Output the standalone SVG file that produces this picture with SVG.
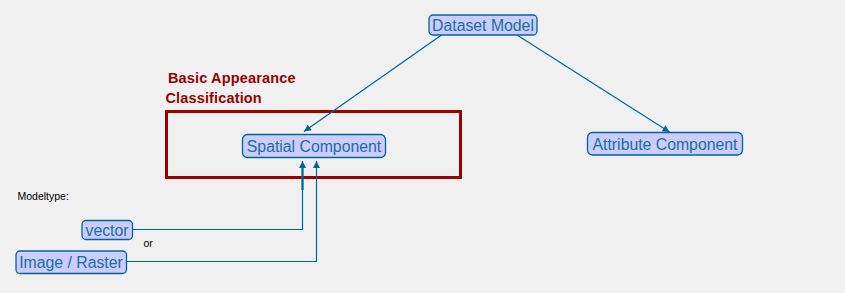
<svg xmlns="http://www.w3.org/2000/svg" width="845" height="293" viewBox="0 0 845 293">
<style>
.node rect{fill:#ccccff;stroke:#006699;stroke-width:1.3}
.node text{font-family:"Liberation Sans",Arial,sans-serif;font-size:15.8px;fill:#1a6e9e;text-anchor:middle}
.conn{fill:none;stroke:#006699;stroke-width:1.2}
.lbl{font-family:"Liberation Sans",Arial,sans-serif;font-size:10.5px;fill:#000}
.title{font-family:"Liberation Sans",Arial,sans-serif;font-size:14.5px;font-weight:bold;fill:#990000;letter-spacing:0.15px}
</style>
<defs>
<marker id="arr" viewBox="0 0 10 10" refX="10" refY="5" markerWidth="8" markerHeight="7" markerUnits="userSpaceOnUse" orient="auto">
<path d="M0,0 L10,5 L0,10 Z" fill="#006699"/>
</marker>
</defs>
<rect width="845" height="293" fill="#f0f0f0"/>
<g id="frame">
<rect x="166.5" y="111.5" width="294" height="66" fill="none" stroke="#990000" stroke-width="3"/>
<text class="title" x="168" y="82.5">Basic Appearance</text>
<text class="title" x="165.5" y="102.5">Classification</text>
</g>
<g id="connectors">
<line class="conn" x1="441.5" y1="35" x2="304" y2="131.5" marker-end="url(#arr)"/>
<line class="conn" x1="517" y1="35" x2="669.5" y2="132" marker-end="url(#arr)"/>
<polyline class="conn" points="132.5,229.5 302.5,229.5 302.5,161" marker-end="url(#arr)"/>
<line x1="302.5" y1="190" x2="302.5" y2="168" stroke="#006699" stroke-width="2.2"/>
<polyline class="conn" points="127,261.5 316.5,261.5 316.5,161" marker-end="url(#arr)"/>
</g>
<g id="n-dataset" class="node">
<rect x="429" y="15" width="108" height="20" rx="4"/>
<text x="483" y="30.5">Dataset Model</text>
</g>
<g id="n-spatial" class="node">
<rect x="242.5" y="134.5" width="143" height="23" rx="5"/>
<text x="314" y="151.5">Spatial Component</text>
</g>
<g id="n-attribute" class="node">
<rect x="587.5" y="132.5" width="155" height="22.5" rx="5"/>
<text x="665" y="150">Attribute Component</text>
</g>
<g id="n-vector" class="node">
<rect x="82" y="220.5" width="50.5" height="19" rx="4"/>
<text x="107" y="235.5">vector</text>
</g>
<g id="n-raster" class="node">
<rect x="16" y="251" width="110.5" height="22.5" rx="4"/>
<text x="71" y="268">Image / Raster</text>
</g>
<text class="lbl" x="17.5" y="200">Modeltype:</text>
<text class="lbl" x="143.5" y="247">or</text>
</svg>
